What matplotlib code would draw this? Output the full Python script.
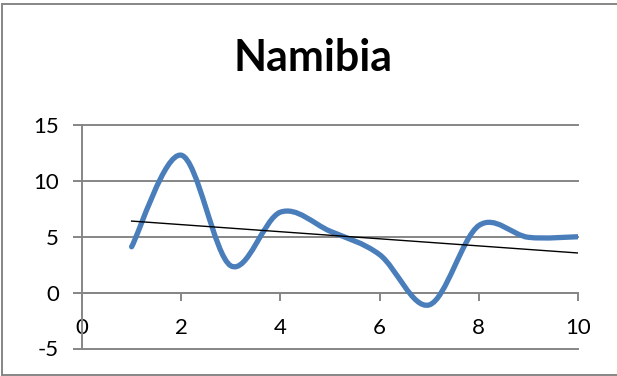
import matplotlib.pyplot as plt
import numpy as np
from matplotlib.path import Path
from matplotlib.patches import PathPatch

# Namibia series
years = [1, 2, 3, 4, 5, 6, 7, 8, 9, 10]
values = [4.1, 12.3, 2.4, 7.2, 5.5, 3.4, -1.1, 6.0, 4.95, 5.0]
x_ticks = [0, 2, 4, 6, 8, 10]
y_ticks = [-5, 0, 5, 10, 15]
title = 'Namibia'

LINE_BLUE = '#4a7ebb'
AXIS_GRAY = '#868686'

plt.rcParams['font.family'] = ['Lato', 'DejaVu Sans']
plt.rcParams['axes.unicode_minus'] = False


def smooth_path(xs, ys):
    """Catmull-Rom style bezier through every point (like a smoothed line chart)."""
    pts = np.column_stack([xs, ys]).astype(float)
    n = len(pts)
    verts = [pts[0]]
    codes = [Path.MOVETO]
    for i in range(n - 1):
        p_prev = pts[max(i - 1, 0)]
        p0, p1 = pts[i], pts[i + 1]
        p_next = pts[min(i + 2, n - 1)]
        c1 = p0 + (p1 - p_prev) / 6.0
        c2 = p1 - (p_next - p0) / 6.0
        verts += [c1, c2, p1]
        codes += [Path.CURVE4] * 3
    return Path(verts, codes)


fig = plt.figure(figsize=(6.17, 3.76), dpi=100)
ax = fig.add_axes([82 / 617, 1 - 348.5 / 376, 496 / 617, 223.5 / 376])

ax.set_xlim(0, 10)
ax.set_ylim(-5, 15)

# gridlines
for v in y_ticks:
    ax.axhline(v, color=AXIS_GRAY, lw=1.4, zorder=1, clip_on=False)

ax.add_patch(PathPatch(smooth_path(years, values), fill=False,
                       edgecolor=LINE_BLUE, lw=3.8, capstyle='round',
                       joinstyle='round', zorder=3))

# linear trend line
slope, icpt = np.polyfit(years, values, 1)
tx = np.array([years[0], years[-1]])
ax.plot(tx, slope * tx + icpt, color='black', lw=1.0, zorder=4)

for side in ['top', 'right']:
    ax.spines[side].set_visible(False)
ax.spines['left'].set_color(AXIS_GRAY)
ax.spines['left'].set_linewidth(1.4)
ax.spines['bottom'].set_position(('data', 0))
ax.spines['bottom'].set_color(AXIS_GRAY)
ax.spines['bottom'].set_linewidth(1.4)

ax.set_xticks(x_ticks)
ax.set_yticks(y_ticks)
ax.tick_params(axis='x', direction='out', length=6, width=1.4, color=AXIS_GRAY,
               labelsize=16, pad=12)
ax.tick_params(axis='y', direction='out', length=6.5, width=1.4, color=AXIS_GRAY,
               labelsize=16, pad=10)

fig.text(313 / 617, 1 - 58 / 376, title, ha='center', va='center',
         fontsize=31, fontweight='bold')

# chart area border
fig.add_artist(plt.Line2D([2 / 617, 2 / 617], [1 / 376, 1 - 4 / 376],
                          color=AXIS_GRAY, lw=1.4, transform=fig.transFigure))
fig.add_artist(plt.Line2D([2 / 617, 1], [1 - 4 / 376, 1 - 4 / 376],
                          color=AXIS_GRAY, lw=1.4, transform=fig.transFigure))
fig.add_artist(plt.Line2D([2 / 617, 1], [1 / 376, 1 / 376],
                          color=AXIS_GRAY, lw=1.4, transform=fig.transFigure))

fig.savefig('out.png', dpi=100)
